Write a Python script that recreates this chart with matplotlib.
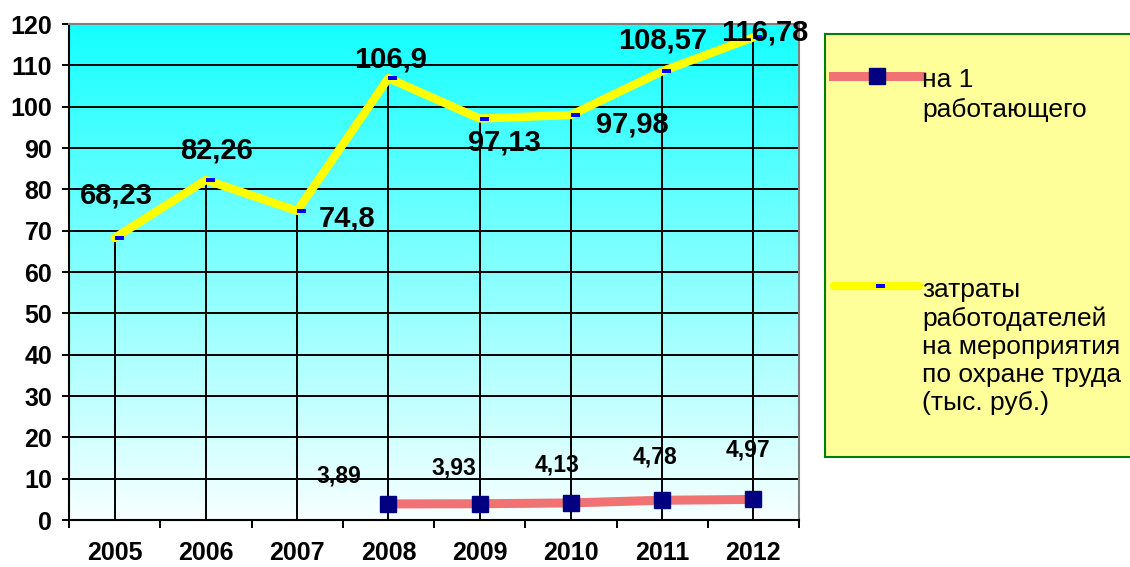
import numpy as np
import matplotlib.pyplot as plt
from matplotlib.lines import Line2D

plt.rcParams['font.family'] = ['Liberation Sans', 'DejaVu Sans']

# данные
years = ['2005', '2006', '2007', '2008', '2009', '2010', '2011', '2012']
costs = [68.23, 82.26, 74.8, 106.9, 97.13, 97.98, 108.57, 116.78]
cost_labels = ['68,23', '82,26', '74,8', '106,9', '97,13', '97,98', '108,57', '116,78']
worker_years = ['2008', '2009', '2010', '2011', '2012']
per_worker = [3.89, 3.93, 4.13, 4.78, 4.97]
worker_labels = ['3,89', '3,93', '4,13', '4,78', '4,97']
legend_worker = 'на 1\nработающего'
legend_costs = 'затраты\nработодателей\nна мероприятия\nпо охране труда\n(тыс. руб.)'

# смещения подписей (в пикселях)
cost_offsets = [(2, 42), (11, 29), (50, -8), (2, 19), (25, -24), (61, -9), (0, 31), (11, 5)]
worker_offsets = [(-50, 28), (-26, 36), (-14, 38), (-7, 43), (-5, 49)]

x = np.arange(len(years))
xw = np.array([years.index(y) for y in worker_years])

fig = plt.figure(figsize=(11.3, 5.67), dpi=100)
ax = fig.add_axes([69 / 1130, 47 / 567, 730 / 1130, 496 / 567])

# градиентный фон
grad = np.linspace(0, 1, 256).reshape(-1, 1)
top = np.array([0.08, 1.0, 1.0])
bottom = np.array([0.97, 1.0, 1.0])
img = (top + (bottom - top) * grad).reshape(256, 1, 3)
ax.imshow(img, extent=[-0.5, 7.5, 0, 120], aspect='auto', zorder=0, origin='upper')

ax.set_xlim(-0.5, 7.5)
ax.set_ylim(0, 120)

# сетка
for v in range(10, 120, 10):
    ax.axhline(v, color='black', lw=1.4, zorder=1)

# линии проекции
ax.vlines(x, 0, costs, color='black', lw=1.4, zorder=2)

dash = [(0, -0.25), (1, -0.25), (1, 0.25), (0, 0.25), (0, -0.25)]
ax.plot(x, costs, color='#FFFF00', lw=6, solid_capstyle='round', zorder=3)
ax.plot(x, costs, ls='none', marker=dash, ms=13, mfc='#0000FF', mec='#0000FF', mew=0, zorder=4)
ax.plot(xw, per_worker, color='#F07272', lw=6.5, zorder=3)
ax.plot(xw, per_worker, ls='none', marker='s', ms=11, mfc='#000080', mec='#000080', zorder=4)

for xi, v, lab, off in zip(x, costs, cost_labels, cost_offsets):
    ax.annotate(lab, (xi, v), xytext=off, textcoords='offset pixels',
                ha='center', va='center', fontsize=21, fontweight='bold', zorder=5)
for xi, v, lab, off in zip(xw, per_worker, worker_labels, worker_offsets):
    ax.annotate(lab, (xi, v), xytext=off, textcoords='offset pixels',
                ha='center', va='center', fontsize=16.5, fontweight='bold', zorder=5)

# оси
ax.set_yticks(range(0, 121, 10))
ax.set_yticklabels([str(v) for v in range(0, 121, 10)], fontsize=18, fontweight='bold')
ax.set_xticks(x)
ax.set_xticklabels(years, fontsize=18, fontweight='bold')
ax.set_xticks(np.arange(-0.5, 8, 1), minor=True)
ax.tick_params(axis='x', which='major', length=0, pad=15)
ax.tick_params(axis='x', which='minor', length=6, width=1.4, direction='out')
ax.tick_params(axis='y', length=5, width=1.4, direction='out', pad=7)
for s in ['left', 'bottom']:
    ax.spines[s].set_color('black')
    ax.spines[s].set_linewidth(1.5)
for s in ['top', 'right']:
    ax.spines[s].set_color('#808080')
    ax.spines[s].set_linewidth(1.5)

# легенда
lax = fig.add_axes([825 / 1130, (567 - 457) / 567, 310 / 1130, 423 / 567])
lax.set_xlim(825, 1135)
lax.set_ylim(457, 34)
lax.set_facecolor('#FFFF99')
for s in lax.spines.values():
    s.set_color('#008000')
    s.set_linewidth(1.5)
lax.set_xticks([])
lax.set_yticks([])
lax.add_line(Line2D([833, 921], [76, 76], color='#F07272', lw=6.5))
lax.add_line(Line2D([877], [76], ls='none', marker='s', ms=11, mfc='#000080', mec='#000080'))
lax.add_line(Line2D([834, 919], [286, 286], color='#FFFF00', lw=6, solid_capstyle='round'))
lax.add_line(Line2D([876], [286], ls='none', marker=dash, ms=13, mfc='#0000FF', mew=0))
lax.text(922, 68, legend_worker, fontsize=19, va='top', ha='left', linespacing=1.3)
lax.text(922, 278, legend_costs, fontsize=19, va='top', ha='left', linespacing=1.22)

fig.savefig('out.png', dpi=100)
